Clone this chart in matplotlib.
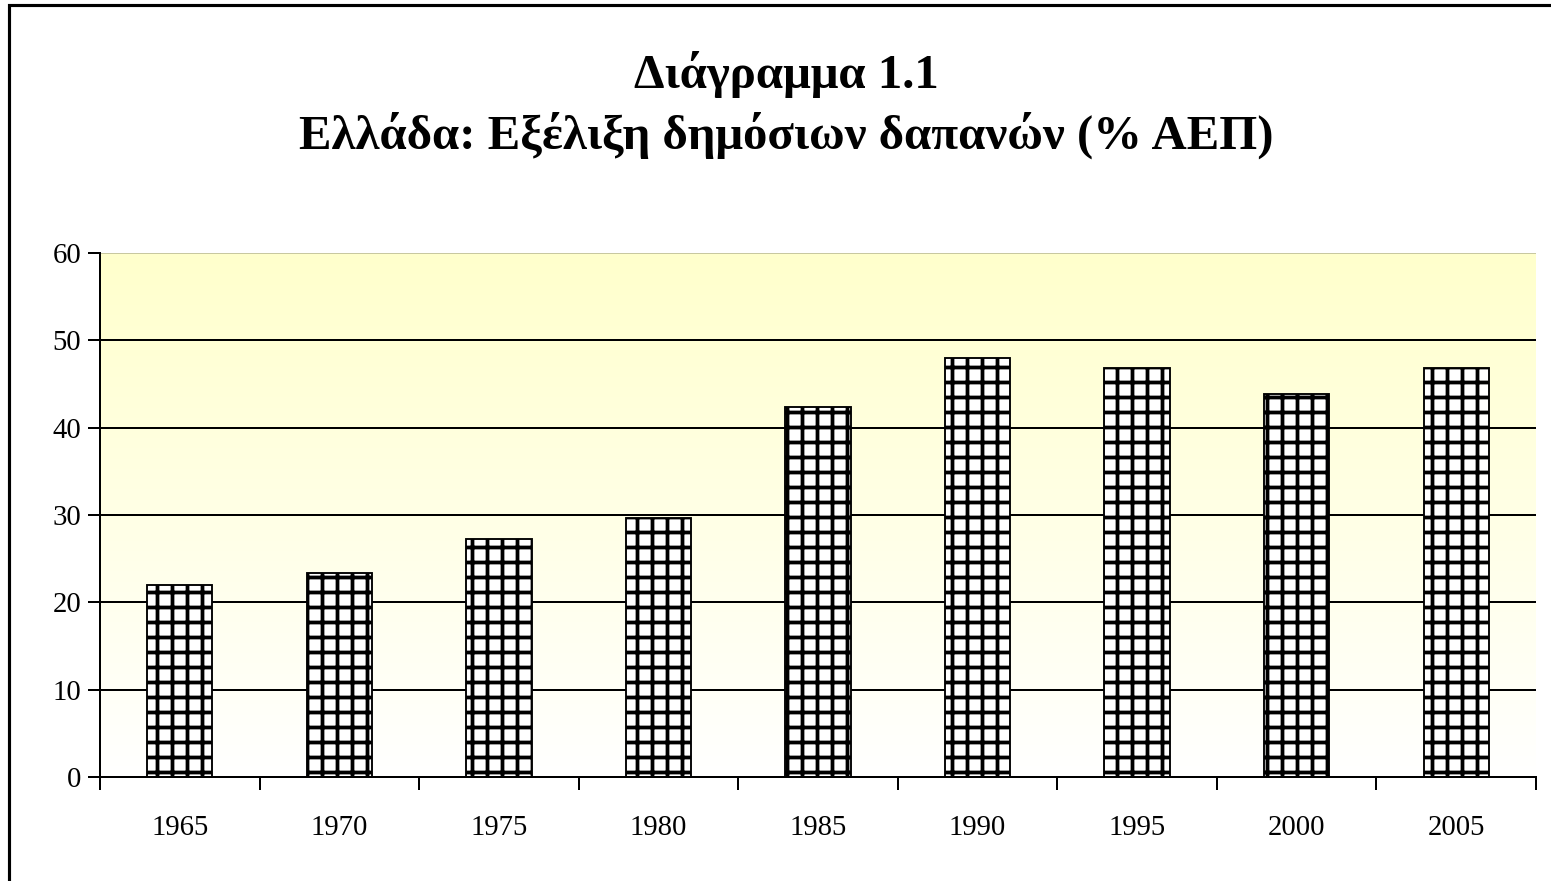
import matplotlib
matplotlib.use("Agg")
import matplotlib.pyplot as plt
import numpy as np
from matplotlib.colors import LinearSegmentedColormap
from matplotlib.patches import Rectangle

years = ["1965", "1970", "1975", "1980", "1985", "1990", "1995", "2000", "2005"]
values = [22.0, 23.4, 27.2, 29.7, 42.4, 48.0, 46.8, 43.9, 46.8]
yticks = [0, 10, 20, 30, 40, 50, 60]
title_line1 = "Διάγραμμα 1.1"
title_line2 = "Ελλάδα: Εξέλιξη δημόσιων δαπανών (% ΑΕΠ)"

W, H, DPI = 1551, 881, 90
plt.rcParams['font.family'] = ['Liberation Serif', 'DejaVu Serif']
plt.rcParams['hatch.linewidth'] = 3.0
plt.rcParams['hatch.color'] = 'black'

fig = plt.figure(figsize=(W / DPI, H / DPI), dpi=DPI)
fig.patch.set_facecolor('white')

# figure border (extends beyond right/bottom edge as in the reference)
fig.patches.append(Rectangle((9 / W, -0.1), 1.2, 1 - 5 / H + 0.1, transform=fig.transFigure,
                             fill=False, edgecolor='black', linewidth=2.5))

ax = fig.add_axes([100 / W, 1 - 777 / H, 1436 / W, 524 / H])
ax.set_xlim(-0.5, len(years) - 0.5)
ax.set_ylim(0, 60)

# gradient background: yellow at top, white at bottom
cmap = LinearSegmentedColormap.from_list('bg', ['#FFFFFF', '#FFFFCC'])
grad = np.linspace(0, 1, 256).reshape(-1, 1)
ax.imshow(grad, extent=(-0.5, len(years) - 0.5, 0, 60), origin='lower', aspect='auto',
          cmap=cmap, zorder=0)

for y in yticks[1:-1]:
    ax.axhline(y, color='black', linewidth=1.6, zorder=1)
ax.axhline(60, color='#C8C8A0', linewidth=1.6, zorder=1)

x = np.arange(len(years))
ax.bar(x, values, width=0.41, facecolor='white', edgecolor='black', hatch='+',
       linewidth=1.5, zorder=2)

for s in ['top', 'right']:
    ax.spines[s].set_visible(False)
for s in ['left', 'bottom']:
    ax.spines[s].set_linewidth(1.6)
    ax.spines[s].set_zorder(3)

ax.set_yticks(yticks)
ax.set_yticklabels([str(v) for v in yticks], fontsize=23)
ax.tick_params(axis='y', length=10, width=1.6, pad=5)

ax.set_xticks(np.arange(len(years) + 1) - 0.5)
ax.set_xticklabels([])
ax.set_xticks(x, minor=True)
ax.set_xticklabels(years, minor=True, fontsize=23)
ax.tick_params(axis='x', which='major', length=10, width=1.6)
ax.tick_params(axis='x', which='minor', length=0, pad=30)

fig.text(786 / W, 1 - 75 / H, title_line1, ha='center', va='center', fontsize=39,
         fontweight='bold')
fig.text(786 / W, 1 - 135 / H, title_line2, ha='center', va='center', fontsize=39,
         fontweight='bold')

fig.savefig('out.png', dpi=DPI)
